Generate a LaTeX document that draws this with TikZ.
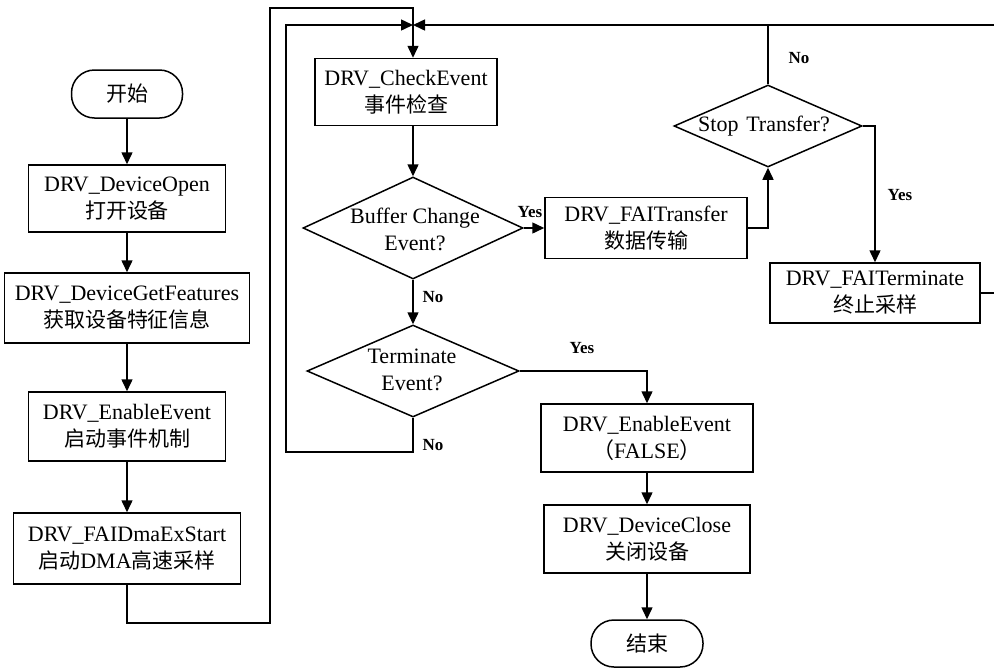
\documentclass[tikz,border=0pt]{standalone}
\usepackage{fontspec}
\setmainfont{Liberation Serif}
\newfontfamily\cjk{Noto Sans CJK SC}
\usetikzlibrary{shapes.geometric,arrows.meta}

\begin{document}
\begin{tikzpicture}[x=1pt,y=-1pt,
  every node/.style={font=\fontsize{22}{27}\selectfont},
  proc/.style={draw, line width=1.5pt, rectangle, inner sep=0pt, align=center},
  term/.style={draw, line width=1.5pt, rectangle, rounded corners=23pt, inner sep=0pt, align=center},
  dec/.style={draw, line width=1.5pt, diamond, inner sep=0pt},
  dtext/.style={align=center, inner sep=0pt},
  lbl/.style={font=\fontsize{17}{20}\selectfont\bfseries, inner sep=0pt},
  flow/.style={line width=1.5pt},
  arr/.style={flow, -{Triangle[length=12pt,width=11pt]}},
]
\useasboundingbox (0,0) rectangle (994,670);

% initialisation column
\node[term, minimum width=111pt, minimum height=48pt] (start) at (127,94) {{\cjk\fontsize{21}{27}\selectfont 开始}};
\node[proc, minimum width=197pt, minimum height=67pt] (open) at (127,198.5) {DRV\_DeviceOpen\\{\cjk\fontsize{21}{27}\selectfont 打开设备}};
\node[proc, minimum width=245pt, minimum height=70pt] (feat) at (127,308) {DRV\_DeviceGetFeatures\\{\cjk\fontsize{21}{27}\selectfont 获取设备特征信息}};
\node[proc, minimum width=197pt, minimum height=69pt] (enable) at (127,426.5) {DRV\_EnableEvent\\{\cjk\fontsize{21}{27}\selectfont 启动事件机制}};
\node[proc, minimum width=227pt, minimum height=71pt] (dma) at (127,548.5) {DRV\_FAIDmaExStart\\{\cjk\fontsize{21}{27}\selectfont 启动}DMA{\cjk\fontsize{21}{27}\selectfont 高速采样}};

% event loop
\node[proc, minimum width=182pt, minimum height=67pt] (check) at (406,92) {DRV\_CheckEvent\\{\cjk\fontsize{21}{27}\selectfont 事件检查}};
\node[dec, minimum width=220pt, minimum height=102pt] (buf) at (413,228) {};
\node[dtext] at (415,229) {Buffer Change\\Event?};
\node[dec, minimum width=212pt, minimum height=92pt] (trm) at (413,371) {};
\node[dtext] at (412,370) {Terminate\\Event?};
\node[proc, minimum width=202pt, minimum height=61pt] (transfer) at (646,228) {DRV\_FAITransfer\\{\cjk\fontsize{21}{27}\selectfont 数据传输}};
\node[dec, minimum width=188pt, minimum height=82pt] (stop) at (768,126) {};
\node[dtext] at (764,126) {Stop\hspace{0.35em}Transfer?};
\node[proc, minimum width=210pt, minimum height=60pt] (fterm) at (875,293) {DRV\_FAITerminate\\{\cjk\fontsize{21}{27}\selectfont 终止采样}};

% shutdown column
\node[proc, minimum width=212pt, minimum height=68pt] (efalse) at (647,438) {DRV\_EnableEvent\\{\cjk （}FALSE{\cjk ）}};
\node[proc, minimum width=206pt, minimum height=68pt] (close) at (647,539) {DRV\_DeviceClose\\{\cjk\fontsize{21}{27}\selectfont 关闭设备}};
\node[term, minimum width=112pt, minimum height=47pt] (end) at (647,643.5) {{\cjk\fontsize{21}{27}\selectfont 结束}};

% branch labels
\node[lbl] at (530,212) {Yes};
\node[lbl] at (433,297) {No};
\node[lbl] at (582,348) {Yes};
\node[lbl] at (433,445) {No};
\node[lbl] at (799,58) {No};
\node[lbl] at (900,195) {Yes};

% routing points
\coordinate (jn) at (413,25);
\coordinate (lpA) at (270,623);
\coordinate (lpB) at (413,8);
\coordinate (lpC) at (286,452);
\coordinate (lpD) at (1010,293);

% flow lines
\draw[arr] (start) -- (open);
\draw[arr] (open) -- (feat);
\draw[arr] (feat) -- (enable);
\draw[arr] (enable) -- (dma);
\draw[arr] (dma.south) |- (lpA) |- (lpB) -- (check.north -| jn);
\draw[arr] (check.south -| buf.north) -- (buf.north);
\draw[arr] (buf.east) -- (transfer.west);
\draw[arr] (transfer.east) -| (stop.south);
\draw[arr] (stop.east) -| (fterm.north);
\draw[flow] (stop.north) -- (stop.north |- jn);
\draw[arr] (fterm.east) -- (lpD) |- (jn);
\draw[arr] (buf.south) -- (trm.north);
\draw[arr] (trm.south) |- (lpC) |- (jn);
\draw[arr] (trm.east) -| (efalse.north);
\draw[arr] (efalse) -- (close);
\draw[arr] (close) -- (end);
\end{tikzpicture}
\end{document}
